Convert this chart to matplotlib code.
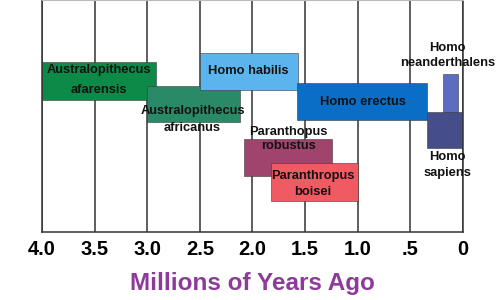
import matplotlib.pyplot as plt

### Data (millions of years ago, rows in arbitrary vertical units)
species = ["afarensis", "africanus", "habilis", "erectus",
           "neanderthalensis", "sapiens", "robustus", "boisei"]
start_mya = [4.0, 3.0, 2.5, 1.58, 0.19, 0.34, 2.08, 1.82]
end_mya = [2.92, 2.12, 1.57, 0.34, 0.05, 0.0, 1.245, 1.0]
row_top = [62, 86, 53, 83, 74, 112, 139, 163]
row_bottom = [100, 122, 90, 120, 112, 148, 176, 201]
colors = ["#0e8a48", "#2a8a68", "#5ab4ee", "#0a6ec6",
          "#5c6cc0", "#464e8a", "#a0446e", "#f05a62"]

labels = ["Australopithecus\nafarensis", "Australopithecus\nafricanus", "Homo habilis",
          "Homo erectus", "Homo\nneanderthalens", "Homo\nsapiens",
          "Paranthopus\nrobustus", "Paranthropus\nboisei"]
label_x = [3.46, 2.57, 2.04, 0.95, 0.15, 0.15, 1.66, 1.43]
label_y = [80, 119.5, 71, 102, 55.5, 165, 139, 184]
label_spacing = [1.9, 1.5, 1.2, 1.2, 1.3, 1.4, 1.2, 1.55]

ticks = [4.0, 3.5, 3.0, 2.5, 2.0, 1.5, 1.0, 0.5, 0.0]
tick_labels = ["4.0", "3.5", "3.0", "2.5", "2.0", "1.5", "1.0", ".5", "0"]

plt.rcParams['font.family'] = ['Liberation Sans', 'DejaVu Sans']

fig = plt.figure(figsize=(5, 3), dpi=100)
ax = fig.add_axes([0.084, 0.2267, 0.842, 0.7733])

# Species bars
for s, e, t, b, c in zip(start_mya, end_mya, row_top, row_bottom, colors):
    ax.barh((t + b) / 2, e - s, left=s, height=b - t, color=c,
            edgecolor="#3a3a3a", linewidth=0.4, zorder=2)

# Names
for txt, x, y, ls in zip(labels, label_x, label_y, label_spacing):
    ax.text(x, y, txt, ha="center", va="center", fontsize=9.3, fontweight="bold",
            color="#111111", linespacing=ls, zorder=3)

ax.set_xlim(4.0, 0.0)
ax.set_ylim(232, 0)
ax.set_xticks(ticks)
ax.set_xticklabels(tick_labels, fontsize=14.5, fontweight="bold")
ax.set_yticks([])
ax.tick_params(axis="x", length=0, pad=6)
ax.grid(axis="x", color="#333333", linewidth=1.1, zorder=1)
ax.set_axisbelow(True)
for side in ["left", "bottom", "right"]:
    ax.spines[side].set_color("#333333")
    ax.spines[side].set_linewidth(1.1)
ax.spines["top"].set_color("#bbbbbb")

ax.set_xlabel("Millions of Years Ago", fontsize=17.5, fontweight="bold",
              color="#8e3a9a", labelpad=9)

plt.savefig("out.png", format='png')
plt.close()
